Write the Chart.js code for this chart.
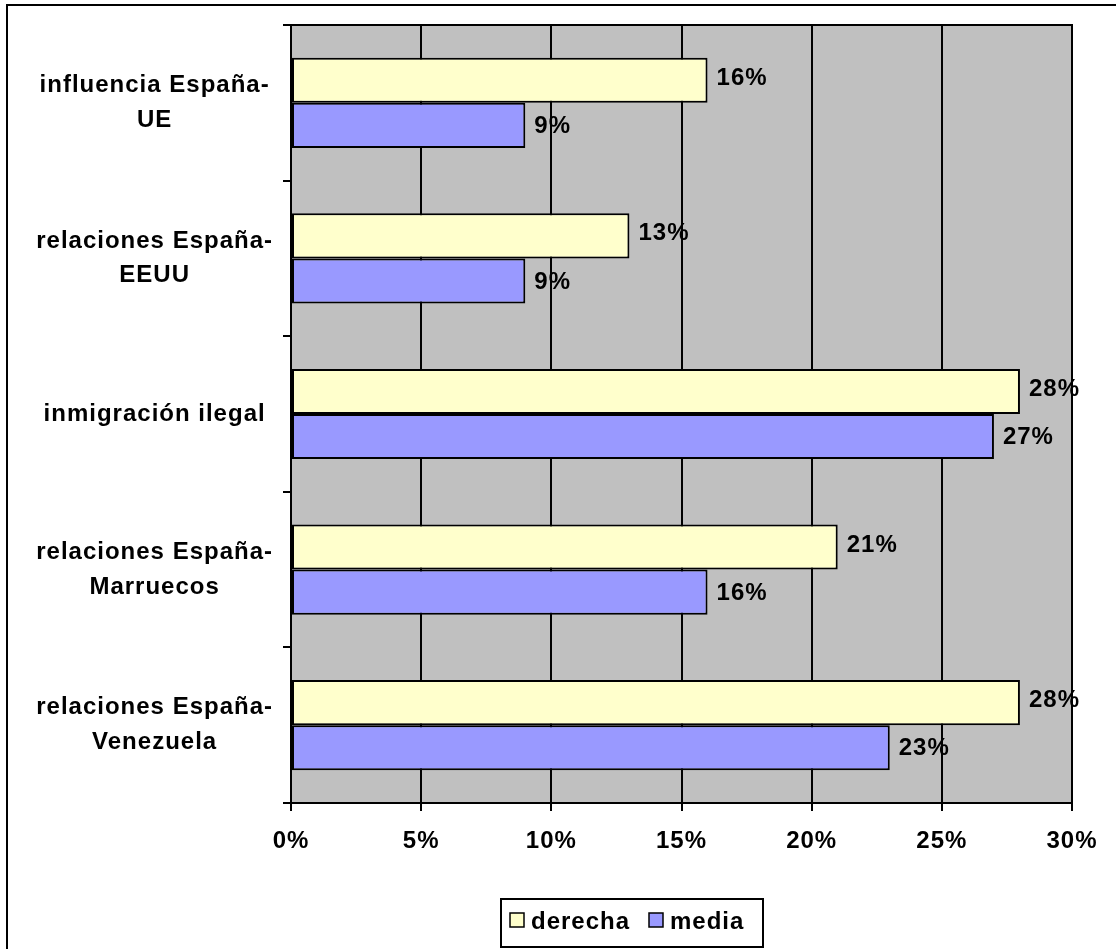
<!doctype html>
<html lang="es">
<head>
  <meta charset="utf-8">
  <title>derecha vs media</title>
  <style>
    body { margin: 0; background: #fff; }
    canvas { display: block; }
  </style>
</head>
<body>
  <canvas id="myChart" width="1116" height="949"></canvas>

  <script src="https://cdn.jsdelivr.net/npm/chart.js@4/dist/chart.umd.min.js"></script>
  <script>
  // data
  const categories = [
    ['influencia España-', 'UE'],
    ['relaciones España-', 'EEUU'],
    ['inmigración ilegal'],
    ['relaciones España-', 'Marruecos'],
    ['relaciones España-', 'Venezuela']
  ];
  const derecha = [16, 13, 28, 21, 28];
  const media = [9, 9, 27, 16, 23];
  const seriesNames = ['derecha', 'media'];
  const xMax = 30;
  const xStep = 5;

  const FONT = 'Arial, "Liberation Sans", sans-serif';
  const SPACING = '1px';

  // gray plot area, spacing on text, frame around the whole thing
  const decor = {
    id: 'decor',
    beforeDraw(chart) {
      const ctx = chart.ctx;
      const a = chart.chartArea;
      ctx.fillStyle = '#C0C0C0';
      ctx.fillRect(a.left, a.top, a.right - a.left, a.bottom - a.top);
      ctx.letterSpacing = SPACING;
    },
    afterDraw(chart) {
      const ctx = chart.ctx;
      const a = chart.chartArea;
      ctx.save();
      ctx.strokeStyle = '#000';
      ctx.lineWidth = 2;
      ctx.strokeRect(a.left, a.top, a.right - a.left, a.bottom - a.top);
      // outer frame
      ctx.strokeRect(7, 5, 1200, 1000);
      ctx.restore();
    }
  };

  // value labels right of the bars
  const valueLabels = {
    id: 'valueLabels',
    afterDatasetsDraw(chart) {
      const ctx = chart.ctx;
      ctx.save();
      ctx.letterSpacing = SPACING;
      ctx.font = 'bold 24px ' + FONT;
      ctx.fillStyle = '#000';
      ctx.textAlign = 'left';
      ctx.textBaseline = 'middle';
      chart.data.datasets.forEach((ds, i) => {
        chart.getDatasetMeta(i).data.forEach((bar, j) => {
          ctx.fillText(ds.data[j] + '%', bar.x + 9, bar.y + (i == 0 ? -2 : 1));
        });
      });
      ctx.restore();
    }
  };

  // boxed legend under the axis
  const boxLegend = {
    id: 'boxLegend',
    afterDraw(chart) {
      const ctx = chart.ctx;
      ctx.save();
      ctx.letterSpacing = SPACING;
      ctx.strokeStyle = '#000';
      ctx.lineWidth = 2;
      ctx.strokeRect(501, 899, 262, 48);
      ctx.font = 'bold 24px ' + FONT;
      ctx.textBaseline = 'middle';
      ctx.textAlign = 'left';
      const boxX = [510, 649];
      chart.data.datasets.forEach((ds, i) => {
        const x = boxX[i];
        ctx.fillStyle = ds.backgroundColor;
        ctx.fillRect(x, 913, 14, 14);
        ctx.lineWidth = 1.5;
        ctx.strokeRect(x, 913, 14, 14);
        ctx.fillStyle = '#000';
        ctx.fillText(ds.label, x + 21, 922);
      });
      ctx.restore();
    }
  };

  const ctx = document.getElementById('myChart').getContext('2d');
  const chart = new Chart(ctx, {
    type: 'bar',
    data: {
      labels: categories,
      datasets: [
        {
          label: seriesNames[0],
          data: derecha,
          backgroundColor: '#FFFFCC',
          borderColor: '#000',
          borderWidth: 2,
          borderSkipped: false
        },
        {
          label: seriesNames[1],
          data: media,
          backgroundColor: '#9999FF',
          borderColor: '#000',
          borderWidth: 2,
          borderSkipped: false
        }
      ]
    },
    options: {
      indexAxis: 'y',
      responsive: false,
      animation: false,
      devicePixelRatio: 1,
      categoryPercentage: 0.58,
      barPercentage: 1,
      layout: {
        padding: { top: 25, right: 44, left: 0, bottom: 86 }
      },
      plugins: {
        legend: { display: false },
        tooltip: { enabled: false }
      },
      scales: {
        x: {
          min: 0,
          max: xMax,
          ticks: {
            stepSize: xStep,
            color: '#000',
            padding: 16,
            font: { family: FONT, size: 24, weight: 'bold' },
            callback: v => v + '%'
          },
          grid: {
            color: '#000',
            lineWidth: 2,
            tickLength: 8
          },
          border: { color: '#000', width: 2 },
          afterFit: s => { s.height = 60; }
        },
        y: {
          ticks: {
            color: '#000',
            padding: 19,
            crossAlign: 'center',
            font: { family: FONT, size: 24, weight: 'bold', lineHeight: 1.45 }
          },
          grid: {
            drawOnChartArea: false,
            offset: true,
            color: '#000',
            lineWidth: 2,
            tickLength: 8
          },
          border: { color: '#000', width: 2 },
          afterFit: s => {
            s.width = 291;
            s.paddingTop = 0;
            s.paddingBottom = 0;
          }
        }
      }
    },
    plugins: [decor, valueLabels, boxLegend]
  });
  </script>
</body>
</html>
